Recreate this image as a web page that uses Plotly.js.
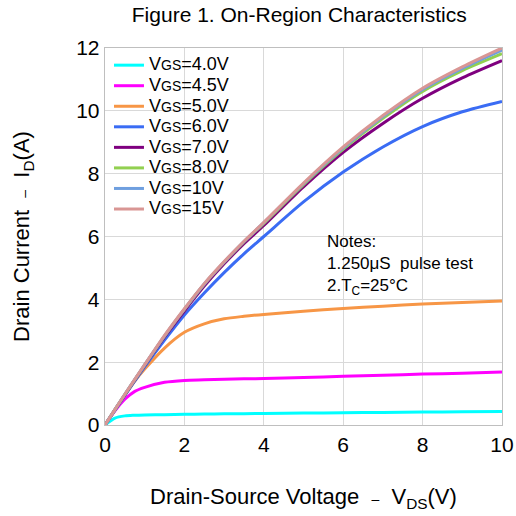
<!DOCTYPE html>
<html>
<head>
<meta charset="utf-8">
<script src="https://cdn.plot.ly/plotly-3.0.1.min.js"></script>
<style>body{margin:0;padding:0;background:#fff}#chart{width:516px;height:516px}</style>
</head>
<body>
<div id="chart"></div>
<script>
// Drain-source voltage samples (V)
const vds = [0, 0.25, 0.5, 0.75, 1, 1.5, 2, 2.5, 3, 3.5, 4, 5, 6, 7, 8, 9, 10];

// Drain current (A) for each gate voltage
const id_4v0 = [0, 0.22, 0.29, 0.31, 0.32, 0.33, 0.34, 0.35, 0.355, 0.36, 0.37, 0.38, 0.39, 0.40, 0.41, 0.42, 0.43];
const id_4v5 = [0, 0.45, 0.82, 1.07, 1.2, 1.36, 1.42, 1.44, 1.46, 1.47, 1.48, 1.51, 1.55, 1.58, 1.62, 1.65, 1.69];
const id_5v0 = [0, 0.48, 0.95, 1.4, 1.78, 2.45, 2.95, 3.22, 3.38, 3.46, 3.52, 3.62, 3.71, 3.78, 3.85, 3.9, 3.95];
const id_6v0 = [0, 0.47, 0.94, 1.4, 1.85, 2.7, 3.5, 4.2, 4.85, 5.45, 6.0, 7.1, 8.05, 8.85, 9.5, 9.97, 10.3];
const id_7v0 = [0, 0.48, 0.96, 1.43, 1.9, 2.8, 3.63, 4.42, 5.13, 5.77, 6.35, 7.58, 8.68, 9.6, 10.4, 11.05, 11.6];
const id_8v0 = [0, 0.49, 0.97, 1.44, 1.91, 2.83, 3.68, 4.48, 5.18, 5.83, 6.42, 7.65, 8.78, 9.76, 10.62, 11.28, 11.82];
const id_10v = [0, 0.49, 0.98, 1.45, 1.92, 2.84, 3.69, 4.49, 5.19, 5.84, 6.44, 7.68, 8.82, 9.82, 10.68, 11.35, 11.93];
const id_15v = [0, 0.49, 0.98, 1.45, 1.92, 2.85, 3.7, 4.5, 5.2, 5.85, 6.45, 7.7, 8.85, 9.85, 10.72, 11.4, 12.0];

const seriesNames = ['4.0V', '4.5V', '5.0V', '6.0V', '7.0V', '8.0V', '10V', '15V'];
const seriesData = [id_4v0, id_4v5, id_5v0, id_6v0, id_7v0, id_8v0, id_10v, id_15v];
const seriesColors = ['#00FFFF', '#FF00FF', '#F79646', '#3A6CF4', '#7F007F', '#92D050', '#6F9FDF', '#D99694'];

const xTicks = [0, 2, 4, 6, 8, 10];
const yTicks = [0, 2, 4, 6, 8, 10, 12];

const traces = seriesNames.map((n, i) => ({
  x: vds,
  y: seriesData[i],
  type: 'scatter',
  mode: 'lines',
  name: '<span style="font-size:18px">V</span><span style="font-size:14px">GS</span><span style="font-size:18px">=' + n + '</span>',
  line: {color: seriesColors[i], width: 3, shape: 'spline', smoothing: 0.8},
  hoverinfo: 'skip'
}));

const FAM = 'Liberation Sans';
const f = (size) => ({family: FAM, size: size, color: '#000'});

const layout = {
  width: 516, height: 516,
  margin: {l: 105, r: 14, t: 48, b: 91},
  paper_bgcolor: '#fff', plot_bgcolor: '#fff',
  font: f(21),
  title: {
    text: 'Figure 1. On-Region Characteristics',
    font: f(21),
    x: 0.58, xanchor: 'center', y: 0.972, yanchor: 'middle'
  },
  showlegend: true,
  legend: {
    x: 0.01, y: 0.995, xanchor: 'left', yanchor: 'top',
    bgcolor: 'rgba(255,255,255,0)', borderwidth: 0,
    font: f(13.5),
    tracegroupgap: 0, itemwidth: 30
  },
  xaxis: {
    range: [0, 10], tickvals: xTicks, ticktext: xTicks.map(String),
    showgrid: true, gridcolor: '#D9D9D9', gridwidth: 1.3,
    showline: true, linecolor: '#BFBFBF', linewidth: 1.3, mirror: true,
    zeroline: false, ticks: '', tickfont: f(21),
    title: {text: 'Drain-Source Voltage  <span style="font-size:14px">–</span>  V<sub>DS</sub>(V)', font: f(22), standoff: 34}
  },
  yaxis: {
    range: [0, 12], tickvals: yTicks, ticktext: yTicks.map(String),
    showgrid: true, gridcolor: '#D9D9D9', gridwidth: 1.3,
    showline: true, linecolor: '#BFBFBF', linewidth: 1.3, mirror: true,
    zeroline: false, ticks: '', tickfont: f(21),
    title: {text: 'Drain Current  <span style="font-size:14px">–</span>  I<sub>D</sub>(A)', font: f(22), standoff: 40}
  },
  annotations: [{
    xref: 'x', yref: 'y', x: 5.55, y: 6.22, xanchor: 'left', yanchor: 'top',
    align: 'left', showarrow: false,
    text: 'Notes:<br>1.250μS  pulse test<br>2.T<sub>C</sub>=25°C',
    font: f(17)
  }]
};

Plotly.newPlot('chart', traces, layout, {displayModeBar: false, staticPlot: true});
</script>
</body>
</html>
